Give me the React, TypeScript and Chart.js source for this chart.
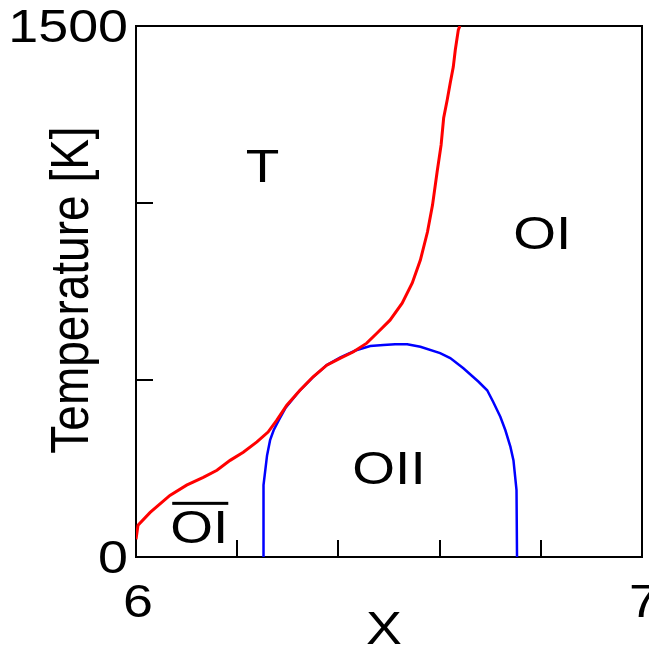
import React, { useEffect, useRef } from "react";
import { Chart, registerables } from "chart.js";

Chart.register(...registerables);

// ---- data ----
const redX = [6.0, 6.004, 6.028, 6.067, 6.1, 6.133, 6.16, 6.186, 6.212, 6.239, 6.261, 6.278, 6.298, 6.324, 6.35, 6.377, 6.404, 6.429, 6.456, 6.476, 6.502, 6.526, 6.546, 6.562, 6.576, 6.586, 6.595, 6.603, 6.608, 6.615, 6.621, 6.627, 6.631, 6.637, 6.64];
const redT = [50, 90, 126, 174, 203, 225, 245, 273, 296, 325, 353, 386, 429, 471, 509, 542, 562, 579, 604, 632, 669, 717, 774, 839, 918, 994, 1087, 1164, 1240, 1291, 1339, 1384, 1432, 1489, 1500];

const blueX = [6.252, 6.252, 6.259, 6.265, 6.272, 6.282, 6.295, 6.324, 6.35, 6.377, 6.404, 6.435, 6.463, 6.489, 6.512, 6.536, 6.562, 6.601, 6.621, 6.647, 6.677, 6.694, 6.706, 6.72, 6.73, 6.74, 6.746, 6.752, 6.753];
const blueT = [0, 203, 287, 330, 358, 386, 420, 471, 508, 542, 564, 584, 596, 599, 601, 601, 594, 576, 562, 533, 495, 471, 438, 396, 358, 311, 273, 189, 0];

const xMin = 6;
const xMax = 7;
const yMin = 0;
const yMax = 1500;
const xTickValues = [6, 7];
const xTickLabels = ["6", "7"];
const yTickValues = [0, 1500];
const yTickLabels = ["0", "1500"];
const xMinorTicks = [6.2, 6.4, 6.6, 6.8];
const yMinorTicks = [500, 1000];

const xTitle = "X";
const yTitle = "Temperature [K]";

// region labels: text, x, T, overline?
const regionText = ["T", "OI", "OII", "OI"];
const regionX = [6.25, 6.803, 6.5, 6.125];
const regionT = [1060, 870, 205, 40];
const regionOverline = [false, false, false, true];

const FONT = "'Liberation Sans', Arial, Helvetica, sans-serif";
const STRETCH = 1.17;

function stretchedText(ctx: CanvasRenderingContext2D, text: string, x: number, y: number, align: CanvasTextAlign, baseline: CanvasTextBaseline) {
  ctx.save();
  ctx.translate(x, y);
  ctx.scale(STRETCH, 1);
  ctx.textAlign = align;
  ctx.textBaseline = baseline;
  ctx.fillText(text, 0, 0);
  ctx.restore();
}

const textPlugin = {
  id: "phaseText",
  afterDraw(chart: any) {
    const ctx: CanvasRenderingContext2D = chart.ctx;
    const xs = chart.scales.x;
    const ys = chart.scales.y;
    const area = chart.chartArea;
    ctx.save();
    // inward minor ticks
    ctx.strokeStyle = "#000";
    ctx.lineWidth = 2;
    ctx.beginPath();
    xMinorTicks.forEach((v) => {
      const px = Math.round(xs.getPixelForValue(v));
      ctx.moveTo(px, area.bottom);
      ctx.lineTo(px, area.bottom - 17);
    });
    yMinorTicks.forEach((v) => {
      const py = Math.round(ys.getPixelForValue(v));
      ctx.moveTo(area.left, py);
      ctx.lineTo(area.left + 17, py);
    });
    ctx.stroke();

    ctx.fillStyle = "#000";
    ctx.font = `46px ${FONT}`;
    // y tick labels
    yTickValues.forEach((v, i) => {
      const py = ys.getPixelForValue(v);
      stretchedText(ctx, yTickLabels[i], area.left - 8, py + 3, "right", "middle");
    });
    // x tick labels
    xTickValues.forEach((v, i) => {
      const px = xs.getPixelForValue(v);
      stretchedText(ctx, xTickLabels[i], px + 2, area.bottom + 60, "center", "alphabetic");
    });
    // x title
    stretchedText(ctx, xTitle, (area.left + area.right) / 2 - 5, area.bottom + 87, "center", "alphabetic");
    // y title (rotated)
    ctx.save();
    ctx.translate(88, 290);
    ctx.rotate(-Math.PI / 2);
    ctx.scale(1, STRETCH);
    ctx.textAlign = "center";
    ctx.textBaseline = "alphabetic";
    ctx.fillText(yTitle, 0, 0);
    ctx.restore();

    // region labels
    ctx.font = `47px ${FONT}`;
    regionText.forEach((t, i) => {
      const px = xs.getPixelForValue(regionX[i]);
      const py = ys.getPixelForValue(regionT[i]);
      stretchedText(ctx, t, px, py, "center", "alphabetic");
      if (regionOverline[i]) {
        const w = ctx.measureText(t).width * STRETCH;
        ctx.fillRect(px - w / 2 + 2, py - 41, w - 2, 3);
      }
    });
    ctx.restore();
  },
};

export default function App() {
  const ref = useRef<HTMLCanvasElement | null>(null);
  useEffect(() => {
    if (!ref.current) return;
    const axisCommon = {
      type: "linear" as const,
      ticks: { display: false },
      grid: { display: false, drawTicks: false },
      border: { display: true, color: "#000", width: 2 },
    };
    const chart = new Chart(ref.current, {
      type: "scatter",
      data: {
        datasets: [
          {
            label: "red",
            data: redX.map((x, i) => ({ x, y: redT[i] })),
            showLine: true,
            borderColor: "#ff0000",
            borderWidth: 3,
            pointRadius: 0,
            tension: 0,
          },
          {
            label: "blue",
            data: blueX.map((x, i) => ({ x, y: blueT[i] })),
            showLine: true,
            borderColor: "#0000ff",
            borderWidth: 2.5,
            pointRadius: 0,
            tension: 0,
          },
        ],
      },
      options: {
        animation: false,
        responsive: false,
        devicePixelRatio: 1,
        layout: { padding: { left: 136, right: 7, top: 26, bottom: 91 } },
        plugins: { legend: { display: false }, tooltip: { enabled: false } },
        scales: {
          x: { ...axisCommon, position: "bottom", min: xMin, max: xMax },
          y: { ...axisCommon, position: "left", min: yMin, max: yMax },
          x2: { ...axisCommon, position: "top", min: xMin, max: xMax },
          y2: { ...axisCommon, position: "right", min: yMin, max: yMax },
        },
      },
      plugins: [textPlugin],
    });
    return () => chart.destroy();
  }, []);
  return (
    <div style={{ position: "fixed", left: 0, top: 0, width: 649, height: 648, background: "#fff" }}>
      <canvas ref={ref} width={649} height={648} style={{ display: "block" }} />
    </div>
  );
}
